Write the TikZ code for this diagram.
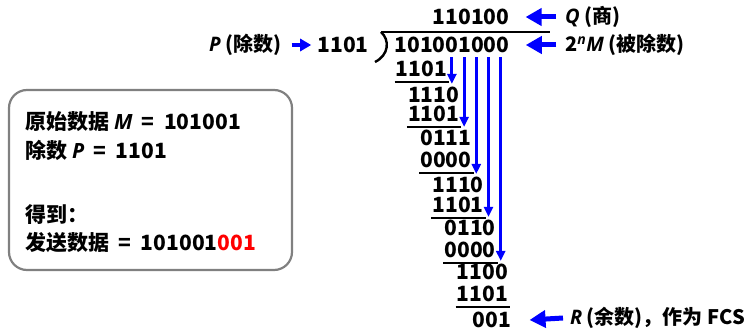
\documentclass[tikz,border=0pt]{standalone}
\usepackage{fontspec}
\setmainfont{Noto Sans CJK SC}
\newfontfamily\latit{Open Sans}
\usepackage{xcolor}
\usetikzlibrary{arrows.meta}
\usetikzlibrary{calc}
\definecolor{boxgray}{rgb}{0.5,0.5,0.5}
\newcommand{\iv}[1]{{\latit\bfseries\itshape #1}}
\newcommand{\eq}{\hspace{0.45em}=\hspace{0.45em}}

\tikzset{
  num/.style={font=\bfseries\fontsize{21}{21}\selectfont, inner sep=0pt},
  lbl/.style={font=\bfseries\fontsize{20}{20}\selectfont, inner sep=0pt, anchor=west},
  boxtxt/.style={lbl, font=\bfseries\fontsize{21}{21}\selectfont},
  bigarrow/.style={blue, line width=5pt, -{Triangle[length=16pt,width=17pt]}},
  midarrow/.style={blue, line width=3.8pt, -{Triangle[length=11pt,width=12pt]}},
  downarrow/.style={blue, line width=3pt, -{Triangle[length=10pt,width=9pt]}},
  bar/.style={line width=2.2pt},
}

\begin{document}
\begin{tikzpicture}[x=1pt,y=-1pt]
  \useasboundingbox (0,0) rectangle (749,334);

  \draw[boxgray, line width=2.2pt, rounded corners=18pt] (9,90) rectangle (292,270);
  \node[boxtxt] (m)   at (25,122) {原始数据 \iv{M}\eq 101001};
  \node[boxtxt] (p)   at (25,150) {除数 \iv{P}\eq 1101};
  \node[boxtxt] (got) at (25,215) {得到：};
  \node[boxtxt] (snd) at (25,243) {发送数据\eq 101001\textcolor{red}{001}};

  \node[num] (quo) at (471,17) {110100};
  \node[num] (div) at (452,45) {101001000};
  \node[num] (dvs) at (343,45) {1101};
  \draw[bar] (381,32) -- (550,32);
  \draw[line width=2.4pt] (381,32) .. controls (390,40) and (389,55) .. (375,62);

  \foreach \txt/\c/\n/\y [count=\i] in {1101/0/4/69, 1110/1/4/95, 1101/1/4/114, 0111/2/4/138,
      0000/2/4/160, 1110/3/4/185, 1101/3/4/205, 0110/4/4/228, 0000/4/4/250, 1100/5/4/272,
      1101/5/4/294, 001/6.3/3/320} {
    \node[num] (r\i) at ({397+12.2*\c+6.1*\n},\y) {\txt};
  }
  \foreach \i in {1,3,5,7,9,11} {
    \draw[bar] ([xshift=-1pt,yshift=-5pt]r\i.south west) -- ([xshift=2pt,yshift=-5pt]r\i.south east);
  }

  \foreach \c in {4,...,8} {
    \coordinate (c\c) at ({403.1+12.2*\c},0);
  }
  \foreach \c/\r in {4/2, 5/4, 6/6, 7/8, 8/10} {
    \draw[downarrow] ($(div.south -| c\c)+(0,4)$) -- ($(c\c |- r\r.north)+(0,-3)$);
  }

  \node[lbl] (plab) at (209,45) {\iv{P} (除数)};
  \node[lbl] (qlab) at (565,17) {\iv{Q} (商)};
  \node[lbl] (mlab) at (565,45) {2\textsuperscript{\iv{n}}\iv{M} (被除数)};
  \node[lbl] (rlab) at (570,318) {\iv{R} (余数)，作为 FCS};

  \draw[midarrow] ([xshift=10pt]plab.east) -- ([xshift=-6pt]dvs.west);
  \draw[bigarrow] ([xshift=-9pt]qlab.west) -- ([xshift=16pt]quo.east);
  \draw[bigarrow] ([xshift=-9pt]mlab.west) -- ([xshift=16pt]div.east);
  \draw[bigarrow] ([xshift=-7pt]rlab.west) -- ([xshift=18pt]r12.east);
\end{tikzpicture}
\end{document}
